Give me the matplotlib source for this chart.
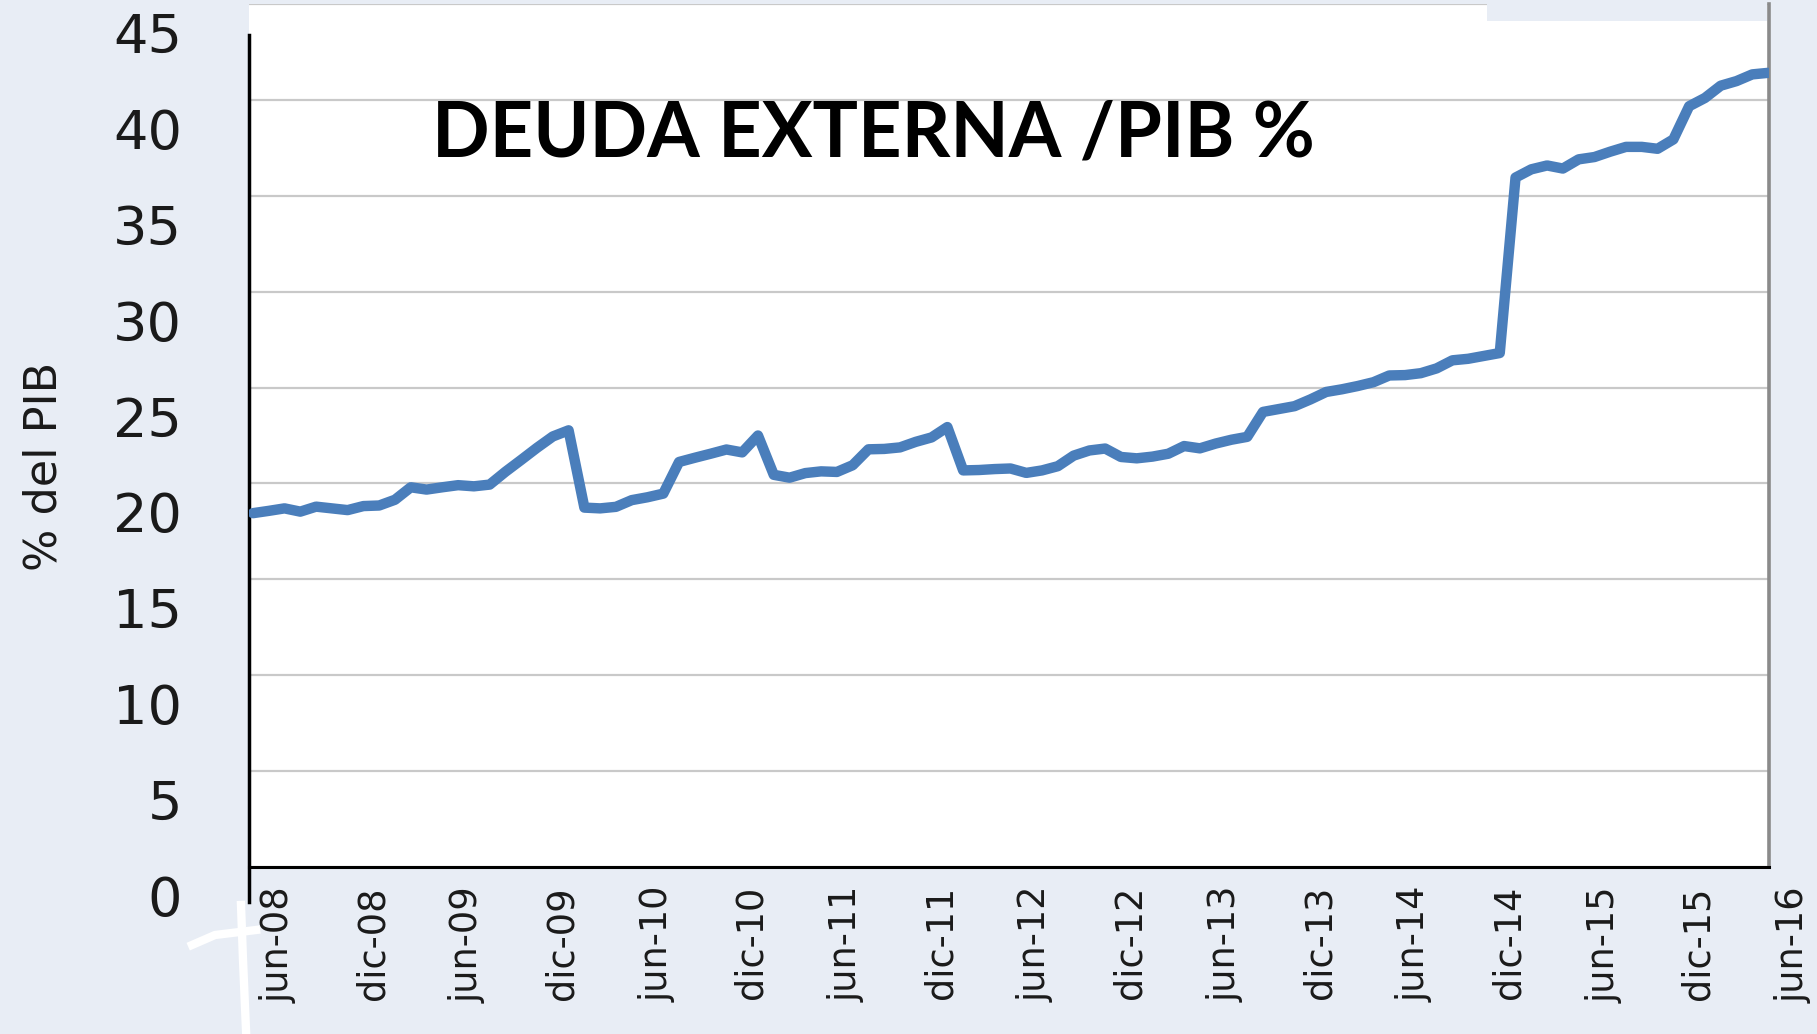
import matplotlib
matplotlib.use("Agg")
import matplotlib.pyplot as plt
from matplotlib import transforms
from matplotlib.patches import Rectangle
from matplotlib.lines import Line2D

# ---------------- data ----------------
tick_labels = ["jun-08", "dic-08", "jun-09", "dic-09", "jun-10", "dic-10",
               "jun-11", "dic-11", "jun-12", "dic-12", "jun-13", "dic-13",
               "jun-14", "dic-14", "jun-15", "dic-15", "jun-16"]
months_per_label = 6

deuda_pib = [18.45, 18.57, 18.70, 18.53, 18.79, 18.70, 18.61, 18.82, 18.85, 19.15,
             19.80, 19.68, 19.80, 19.91, 19.85, 19.94, 20.61, 21.23, 21.86, 22.45,
             22.77, 18.74, 18.70, 18.78, 19.13, 19.28, 19.47, 21.12, 21.34, 21.55,
             21.77, 21.62, 22.50, 20.45, 20.30, 20.54, 20.63, 20.60, 20.95, 21.78,
             21.80, 21.88, 22.17, 22.40, 22.94, 20.68, 20.70, 20.75, 20.78, 20.55,
             20.68, 20.90, 21.45, 21.72, 21.82, 21.38, 21.31, 21.40, 21.55, 21.95,
             21.83, 22.08, 22.28, 22.43, 23.73, 23.88, 24.03, 24.38, 24.77, 24.91,
             25.08, 25.28, 25.63, 25.65, 25.75, 26.00, 26.42, 26.50, 26.65, 26.80,
             35.95, 36.38, 36.58, 36.42, 36.90, 37.02, 37.30, 37.55, 37.55, 37.45,
             37.94, 39.67, 40.10, 40.74, 40.98, 41.33, 41.41]

y_ticks = [0, 5, 10, 15, 20, 25, 30, 35, 40, 45]

title = "DEUDA EXTERNA /PIB %"
y_label = "% del PIB"

# ---------------- style ----------------
BG = "#E8EDF5"
LINE = "#4A7EBB"
GRID = "#C9C9C9"

W, H = 1817, 1034
fig = plt.figure(figsize=(W / 100, H / 100), dpi=100)
fig.patch.set_facecolor(BG)

ax = fig.add_axes([249 / W, 1 - 867 / H, (1769 - 249) / W, (867 - 4) / H])
ax.set_facecolor("white")

x = list(range(len(deuda_pib)))
ax.plot(x, deuda_pib, color=LINE, lw=7.5, solid_joinstyle="round",
        solid_capstyle="round", zorder=3)

ax.set_xlim(-0.25, 96.06)
ax.set_ylim(0, 44.53)

ax.set_yticks(y_ticks)
ax.set_xticks([])
ax.yaxis.grid(True, color=GRID, lw=1.6)
ax.set_axisbelow(True)
ax.tick_params(left=False, bottom=False, labelleft=False, labelbottom=False)

ax.spines["top"].set_visible(False)
ax.spines["right"].set_color("#8A8A8A")
ax.spines["right"].set_linewidth(2.6)
ax.spines["left"].set_color("black")
ax.spines["left"].set_linewidth(2.5)
ax.spines["left"].set_bounds(-1.85, 43.4)
ax.spines["bottom"].set_color("black")
ax.spines["bottom"].set_linewidth(2.2)

# y tick labels (shifted below their gridlines, as in the reference)
ytr = transforms.blended_transform_factory(ax.transAxes, ax.transData) + \
    transforms.ScaledTranslation(-0.67, -0.34, fig.dpi_scale_trans)
for v in y_ticks:
    ax.text(0, v, str(v), transform=ytr, ha="right", va="center",
            fontsize=39, family="DejaVu Sans", color="#1a1a1a", clip_on=False)

# x tick labels
xtr = transforms.blended_transform_factory(ax.transData, ax.transAxes) + \
    transforms.ScaledTranslation(0.25, -0.19, fig.dpi_scale_trans)
for k, lab in enumerate(tick_labels):
    ax.text(k * months_per_label, 0, lab, transform=xtr, rotation=90,
            ha="center", va="top", fontsize=26.5, family="DejaVu Sans",
            color="#1a1a1a", clip_on=False)

fig.text(44 / W, 1 - 466 / H, y_label, rotation=90, ha="center", va="center",
         fontsize=32, family="DejaVu Sans", color="#1a1a1a")

fig.text(432 / W, 1 - 156 / H, title, ha="left", va="baseline",
         fontsize=54.5, family="Lato", fontweight="bold", color="black")

# light strip at the top right of the reference
fig.add_artist(Rectangle((1487 / W, 1 - 21 / H), (1767 - 1487) / W, 21 / H,
                         transform=fig.transFigure, facecolor=BG,
                         edgecolor="none", zorder=5))

# white scribble at the bottom-left corner
fig.add_artist(Line2D([241 / W, 243 / W, 246 / W], [1 - 905 / H, 1 - 960 / H, 1 - 1030 / H],
                      transform=fig.transFigure, color="white", lw=6, zorder=6))
fig.add_artist(Line2D([192 / W, 215 / W, 256 / W], [1 - 945 / H, 1 - 935 / H, 1 - 930 / H],
                      transform=fig.transFigure, color="white", lw=6, zorder=6))

fig.savefig("out.png", dpi=100, facecolor=BG)
